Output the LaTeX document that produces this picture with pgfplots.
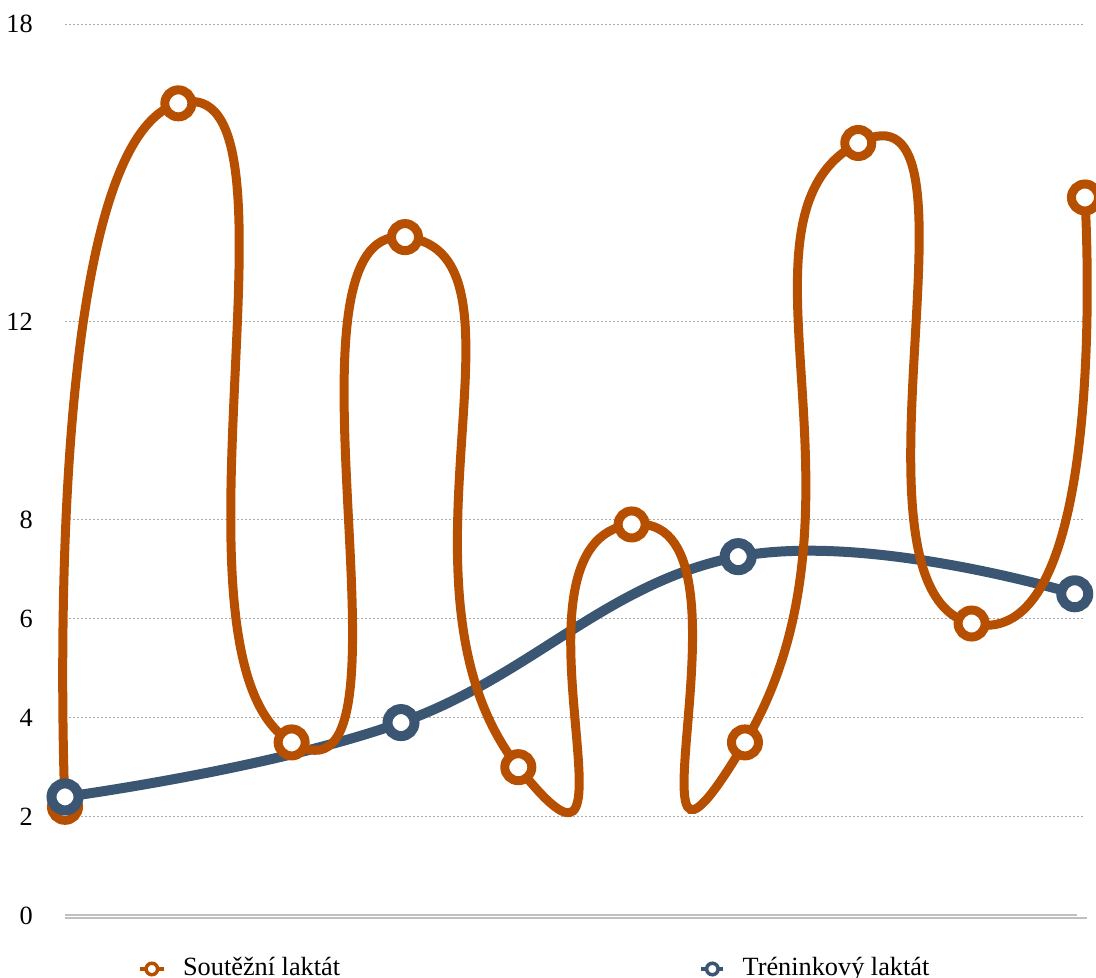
\documentclass[border=0pt]{standalone}
\usepackage{fontspec}
\setmainfont{Liberation Serif}
\usepackage{pgfplots}
\pgfplotsset{compat=1.18}
\definecolor{orng}{RGB}{183,79,0}
\definecolor{blu}{RGB}{59,86,114}
\definecolor{gridc}{RGB}{170,170,170}
\definecolor{axc}{RGB}{192,192,192}
\begin{document}
\begin{tikzpicture}
\begin{axis}[name=ax, scale only axis, width=1020pt, height=891.7pt,
 xmin=0, xmax=9, ymin=0, ymax=18, clip=false,
 axis line style={draw=none}, major tick length=0pt,
 xtick=\empty,
 ytick={2,4,6,8,12,18},
 extra y ticks={0}, extra y tick style={grid=none},
 ymajorgrids, grid style={gridc, line width=1pt, dash pattern=on 2pt off 2pt},
 yticklabel style={inner sep=0pt, font=\fontsize{26.3}{30}\selectfont},
 yticklabel shift=32pt,
 /pgf/number format/assume math mode=true,
 legend columns=2,
 legend style={draw=none, fill=none, at={(0.07098,-0.05764)}, anchor=west, inner sep=0pt,
   font=\fontsize{26.3}{30}\selectfont,
   /tikz/every odd column/.append style={column sep=17pt},
   /tikz/every even column/.append style={column sep=359pt},
   nodes={inner sep=0pt}},
]
\draw[axc, line width=1.6pt] (axis cs:0,0.016) -- (axis cs:8.93,0.016);
\draw[axc, line width=1.6pt] (axis cs:0,-0.04) -- (axis cs:9.018,-0.04);
\addplot[blu, line width=10pt, smooth, tension=0.7, forget plot] coordinates {(0,2.4) (2.965,3.9) (5.94,7.25) (8.91,6.5)};
\addplot[orng, line width=9pt, smooth, tension=2.25, mark=*, mark size=13.5pt, mark options={fill=white, line width=9pt},
  legend image code/.code={\draw[orng, line width=4.5pt] (0pt,-1.8pt) -- (24pt,-1.8pt); \draw[orng, line width=3.5pt, fill=white] (12pt,-1.8pt) circle (5.75pt);}]
  coordinates {(0,2.2) (1,16.4) (2,3.5) (3,13.7) (4,3.0) (5,7.9) (6,3.5) (7,15.6) (8,5.9) (9,14.5)};
\addplot[blu, only marks, mark=*, mark size=13.5pt, mark options={fill=white, line width=10pt},
  legend image code/.code={\draw[blu, line width=4.5pt] (1pt,-1.8pt) -- (23pt,-1.8pt); \draw[blu, line width=3.5pt, fill=white] (12pt,-1.8pt) circle (5.75pt);}]
  coordinates {(0,2.4) (2.965,3.9) (5.94,7.25) (8.91,6.5)};
\legend{Soutěžní laktát, Tréninkový laktát}
\end{axis}
\pgfresetboundingbox
\path[use as bounding box] ([shift={(-65pt,-62.2pt)}]ax.south west) rectangle ([shift={(1031pt,915.8pt)}]ax.south west);
\end{tikzpicture}
\end{document}
